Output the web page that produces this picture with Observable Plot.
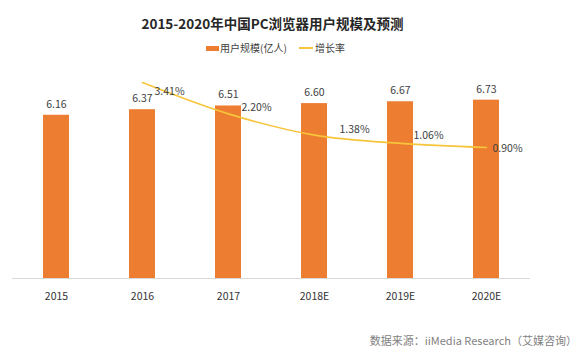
<!DOCTYPE html>
<html>
<head>
<meta charset="utf-8">
<script src="https://cdn.jsdelivr.net/npm/d3@7"></script>
<script src="https://cdn.jsdelivr.net/npm/@observablehq/plot@0.6"></script>
<style>
  html, body { margin: 0; padding: 0; background: #fff; }
  body { width: 586px; height: 358px; position: relative; overflow: hidden;
         font-family: "Noto Sans CJK SC", "Noto Sans", sans-serif; }
  #title { position: absolute; left: 0; width: 545px; top: 13px; text-align: center;
           font-size: 13.5px; font-weight: bold; color: #262626; line-height: 20px; }
  #legend { position: absolute; top: 41px; left: 206px; height: 14px; font-size: 10px;
            color: #404040; line-height: 14px; white-space: nowrap; }
  #legend span { position: absolute; top: 0; }
  .sw-bar { display: inline-block; width: 13px; height: 5px; background: #ED7D31; }
  .sw-line { display: inline-block; width: 14px; height: 2px; background: #F7C53C; }
  #chart { position: absolute; left: 0; top: 60px; }
  #source { position: absolute; right: 9px; top: 332px; font-size: 11px; color: #7f7f7f;
            line-height: 16px; white-space: nowrap; }
</style>
</head>
<body>
<div id="title"></div>
<div id="legend"></div>
<div id="chart"></div>
<div id="source"></div>
<script>
const titleText = "2015-2020年中国PC浏览器用户规模及预测";
const seriesNames = ["用户规模(亿人)", "增长率"];
const sourceText = "数据来源：iiMedia Research（艾媒咨询）";

const years = ["2015", "2016", "2017", "2018E", "2019E", "2020E"];
const users = [6.16, 6.37, 6.51, 6.60, 6.67, 6.73];
const rateYears = ["2016", "2017", "2018E", "2019E", "2020E"];
const rates = [3.41, 2.20, 1.38, 1.06, 0.90];

// primary (bar) axis and hidden secondary (rate, %) axis
const userDomain = [0, 8];
const rateDomain = [-4.16, 4.03];

const toPrimary = v => userDomain[0] + (v - rateDomain[0]) / (rateDomain[1] - rateDomain[0]) * (userDomain[1] - userDomain[0]);

const barData = years.map((y, i) => ({year: y, value: users[i]}));
const rateData = rateYears.map((y, i) => ({year: y, rate: rates[i], yv: toPrimary(rates[i])}));

// label placement offsets (styling), one per rate label
const rateLabelOffsets = [[12, 9], [13, -6], [25, -5], [13, -8], [6, 1]];

document.getElementById("title").textContent = titleText;
document.getElementById("source").textContent = sourceText;
const legend = document.getElementById("legend");
legend.innerHTML =
  '<span style="left:0;top:5px" class="sw-bar"></span>' +
  '<span style="left:14px">' + seriesNames[0] + '</span>' +
  '<span style="left:93px;top:6px" class="sw-line"></span>' +
  '<span style="left:109px">' + seriesNames[1] + '</span>';

const chart = Plot.plot({
  width: 586,
  height: 248,
  marginTop: 6,
  marginBottom: 30,
  marginLeft: 12,
  marginRight: 56,
  style: {fontFamily: '"Noto Sans CJK SC", "Noto Sans", sans-serif', color: "#333", background: "transparent"},
  x: {domain: years, paddingInner: 0.7, paddingOuter: 0.35, label: null},
  y: {domain: userDomain, axis: null},
  marks: [
    Plot.barY(barData, {x: "year", y: "value", fill: "#ED7D31"}),
    Plot.ruleY([0], {stroke: "#d9d9d9", strokeWidth: 1}),
    Plot.text(barData, {x: "year", y: "value", text: d => d.value.toFixed(2), dy: -11, fontSize: 10.5, fill: "#404040"}),
    Plot.line(rateData, {x: "year", y: "yv", stroke: "#F7C53C", strokeWidth: 1.6, curve: "catmull-rom"}),
    ...rateData.map((d, i) => Plot.text([d], {
      x: "year", y: "yv", text: r => r.rate.toFixed(2) + "%",
      dx: rateLabelOffsets[i][0], dy: rateLabelOffsets[i][1],
      textAnchor: "start", fontSize: 10.5, fill: "#404040"
    })),
    Plot.axisX({tickSize: 0, tickPadding: 14, fontSize: 10.5, fill: "#333", label: null})
  ]
});
document.getElementById("chart").appendChild(chart);
</script>
</body>
</html>
